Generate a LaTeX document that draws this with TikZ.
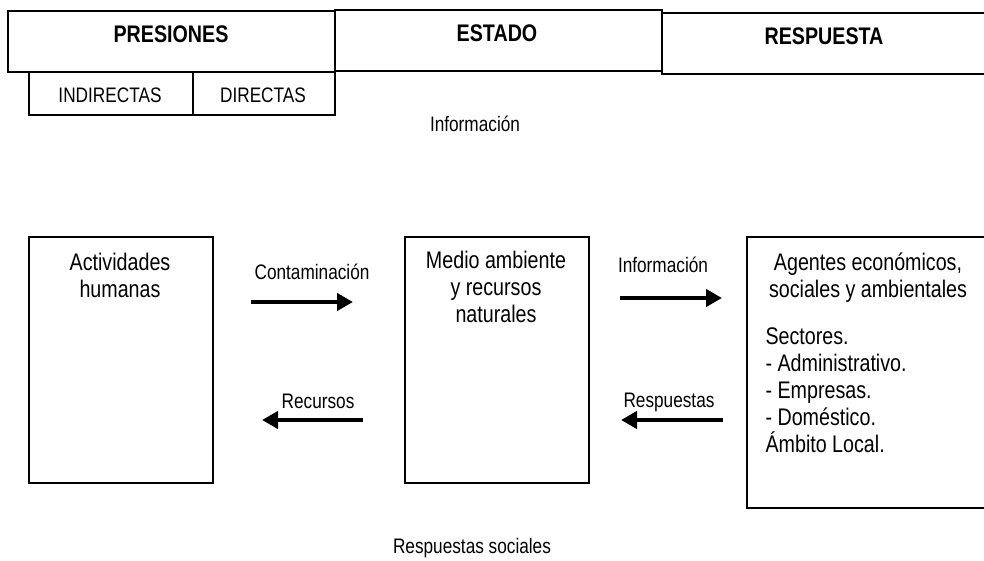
\documentclass[tikz,border=0pt]{standalone}
\usepackage{fontspec}
\setmainfont{Liberation Sans}[FakeStretch=0.82]
\usetikzlibrary{arrows.meta}

\tikzset{
  caja/.style={draw, line width=1.8pt, inner sep=0pt, anchor=north west},
  titulo/.style={anchor=base, font=\fontsize{24}{28}\selectfont\bfseries},
  rotulo/.style={anchor=base, font=\fontsize{21}{24}\selectfont},
  texto/.style={anchor=base, align=center, font=\fontsize{24}{27}\selectfont},
  flecha/.style={line width=4pt, -{Triangle[length=16pt,width=17pt]}}
}

\begin{document}
\begin{tikzpicture}[x=1pt,y=-1pt]
 \useasboundingbox (0,0) rectangle (984,561);

 \node[caja,minimum width=327pt,minimum height=61pt] (presiones) at (7,10) {};
 \node[caja,minimum width=327pt,minimum height=61pt] (estado) at (334,9) {};
 \node[caja,minimum width=329pt,minimum height=61pt] (respuesta) at (661,12) {};
 \node[caja,minimum width=164pt,minimum height=43pt] (indirectas) at (28,71) {};
 \node[caja,minimum width=142pt,minimum height=43pt] (directas) at (192,71) {};

 \node[titulo] (t-presiones) at (171,43) {PRESIONES};
 \node[titulo] (t-estado) at (497,42) {ESTADO};
 \node[titulo] (t-respuesta) at (824,45) {RESPUESTA};
 \node[rotulo] (t-indirectas) at (110,103) {INDIRECTAS};
 \node[rotulo] (t-directas) at (263,103) {DIRECTAS};
 \node[rotulo] (info-arriba) at (475,132) {Información};

 \node[caja,minimum width=184pt,minimum height=246pt] (actividades) at (28,236) {};
 \node[caja,minimum width=184pt,minimum height=246pt] (medio) at (404,236) {};
 \node[caja,minimum width=244pt,minimum height=271pt] (agentes) at (746,236) {};

 % anchor=base sits on the last line
 \node[texto] (t-actividades) at (120,297) {Actividades\\humanas};
 \node[texto] (t-medio) at (496,322) {Medio ambiente\\y recursos\\naturales};
 \node[texto] (t-agentes) at (868,297) {Agentes económicos,\\sociales y ambientales};
 \node[texto,align=left,anchor=base west] (sectores) at (762,452)
   {Sectores.\\- Administrativo.\\- Empresas.\\- Doméstico.\\Ámbito Local.};

 \node[rotulo] (t-conta) at (312,279) {Contaminación};
 \node[rotulo] (t-recursos) at (318,408) {Recursos};
 \node[rotulo] (t-info) at (663,272) {Información};
 \node[rotulo] (t-resp) at (669,407) {Respuestas};
 \node[rotulo] (t-sociales) at (472,553) {Respuestas sociales};

 \coordinate (conta-a) at (251,302);
 \coordinate (conta-b) at (353,302);
 \coordinate (rec-a) at (363,420);
 \coordinate (rec-b) at (262,420);
 \coordinate (info-a) at (620,298);
 \coordinate (info-b) at (722,298);
 \coordinate (resp-a) at (723,420);
 \coordinate (resp-b) at (621,420);

 \draw[flecha] (conta-a) -- (conta-b);
 \draw[flecha] (rec-a) -- (rec-b);
 \draw[flecha] (info-a) -- (info-b);
 \draw[flecha] (resp-a) -- (resp-b);
\end{tikzpicture}
\end{document}
